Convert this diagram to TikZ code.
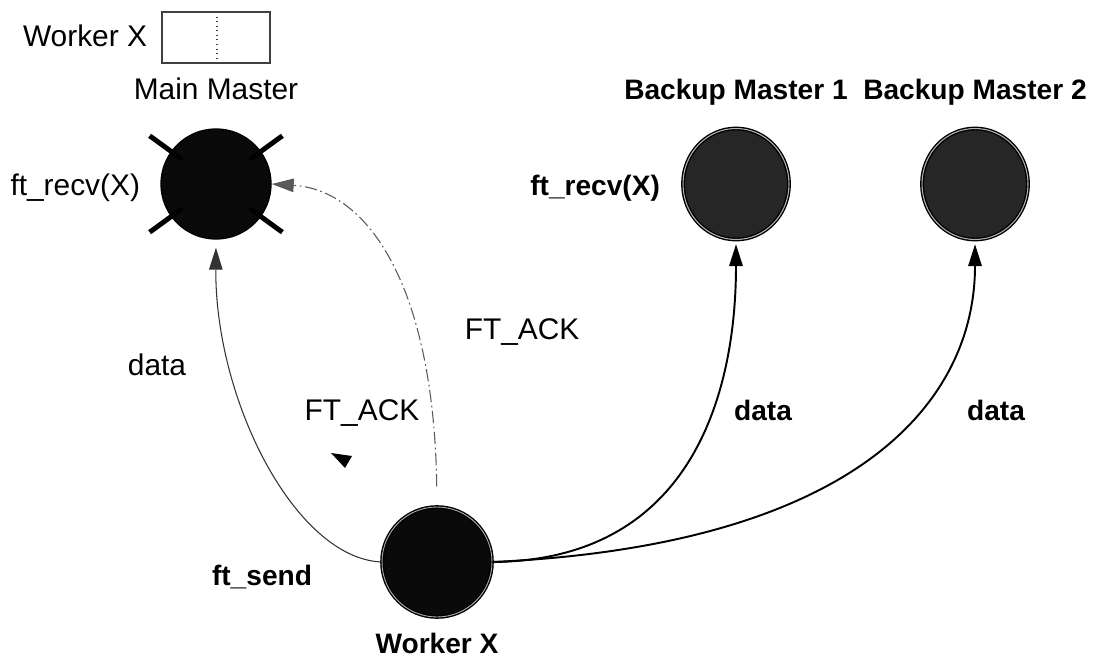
\documentclass[tikz,border=0pt]{standalone}
\usepackage{fontspec}
\setmainfont{Liberation Sans}
\usetikzlibrary{arrows.meta, positioning, shapes.geometric}
\definecolor{nodeDark}{HTML}{0A0A0A}
\definecolor{nodeGrey}{HTML}{262626}

\begin{document}
\begin{tikzpicture}[
    x=0.02cm, y=-0.02cm,
    node distance=0.3cm,
    master/.style={circle, draw=black, thick, fill=nodeDark, minimum size=2.2cm, inner sep=0pt},
    worker/.style={master, double=white!70!black, double distance=0.5pt},
    backup/.style={ellipse, draw=black, thick, double=white!70!black, double distance=0.6pt,
                   fill=nodeGrey, minimum width=2.12cm, minimum height=2.22cm, inner sep=0pt},
    txt/.style={font=\fontsize{17}{20}\selectfont, inner sep=0pt},
    btxt/.style={font=\fontsize{16}{19}\selectfont\bfseries, inner sep=0pt},
    datalink/.style={draw=black, line width=1.1pt, shorten >=0.08cm,
                     -{Triangle[length=0.44cm, width=0.27cm]}},
    sendlink/.style={draw=black!80, line width=0.6pt, shorten >=0.16cm,
                     -{Triangle[length=0.44cm, width=0.27cm]}},
    acklink/.style={draw=black!65, line width=0.6pt, dash pattern=on 7pt off 2pt on 1pt off 2pt,
                    -{Triangle[length=0.44cm, width=0.27cm]}},
  ]
    \useasboundingbox (0,0) rectangle (1097,658);

    % legend
    \node[txt] (legtext) at (85,36) {Worker X};
    \draw[black!75, line width=0.6pt] (162,12) rectangle (270,63);
    \draw[black!75, line width=0.6pt, dotted] (217,12) -- (217,63);

    % nodes
    \node[master] (mm) at (216,184) {};
    \node[backup] (b1) at (736,184) {};
    \node[backup] (b2) at (975,184) {};
    \node[worker] (wx) at (437,562) {};

    % failed master
    \foreach \a in {36,144,216,324}
      \draw[black, line width=2.8pt] ([shift={(\a:42)}]mm.center) -- ([shift={(\a:82)}]mm.center);

    % labels
    \node[txt, above=0.56cm of mm] (mmlabel) {Main Master};
    \node[btxt, above=0.44cm of b1] (b1label) {Backup Master 1};
    \node[btxt, above=0.44cm of b2] (b2label) {Backup Master 2};
    \node[btxt, below=0.3cm of wx] (wxlabel) {Worker X};
    \node[txt, left=0.4cm of mm, yshift=-0.08cm] (mmrecv) {ft\_recv(X)};
    \node[btxt, left=0.44cm of b1, yshift=-0.08cm] (b1recv) {ft\_recv(X)};
    \node[btxt] (send) at (262,577) {ft\_send};

    % messages
    \draw[sendlink] (wx.west) .. controls (295,558) and (215,400) .. (mm.south);
    \draw[acklink, shorten <=0.4cm] (wx.north) .. controls (434,290) and (370,190) .. (mm.east);
    \draw[datalink] (wx.east) .. controls (700,560) and (736,380) .. (b1.south);
    \draw[datalink] (wx.east) .. controls (860,545) and (975,400) .. (b2.south);
    \fill[black] (331,453) -- (352,456) -- (345,468) -- cycle;

    \node[txt] (data0) at (157,365) {data};
    \node[txt] (ack1) at (522,332) {FT\_ACK};
    \node[txt] (ack2) at (362,413) {FT\_ACK};
    \node[btxt] (data1) at (763,410) {data};
    \node[btxt] (data2) at (996,410) {data};
  \end{tikzpicture}
\end{document}
